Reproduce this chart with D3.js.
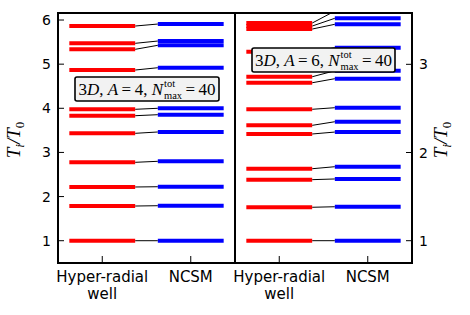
<!DOCTYPE html>
<html>
<head>
<meta charset="utf-8">
<script src="https://cdn.jsdelivr.net/npm/d3@7"></script>
<style>
  body { margin: 0; background: #fff; }
  svg { display: block; }
</style>
</head>
<body>
<div id="chart"></div>
<script>
const W = 470, H = 315;

// level energies T_i/T_0, ascending
const categories = ["Hyper-radial\nwell", "NCSM"];
const a4HyperRadial = [1.0, 1.786, 2.217, 2.776, 3.433, 3.832, 3.977, 4.867, 5.336, 5.472, 5.864];
const a4Ncsm        = [1.0, 1.793, 2.223, 2.799, 3.463, 3.855, 4.0, 4.919, 5.427, 5.524, 5.909];
const a6HyperRadial = [1.0, 1.379, 1.692, 1.816, 2.21, 2.308, 2.49, 2.791, 2.859, 3.143, 3.40, 3.434, 3.468];
const a6Ncsm        = [1.0, 1.385, 1.70, 1.839, 2.232, 2.349, 2.508, 2.837, 2.927, 3.188, 3.454, 3.522, 3.604];
const leftTicks = [1, 2, 3, 4, 5, 6];
const rightTicks = [1, 2, 3];

const panels = [
  { x0: 58, x1: 235, domain: [0.495, 6.159], hr: a4HyperRadial, ncsm: a4Ncsm, ticks: leftTicks, side: "left",
    label: { A: "4" }, box: { x: 75, y: 77, w: 144, h: 24 } },
  { x0: 235, x1: 412, domain: [0.747, 3.582], hr: a6HyperRadial, ncsm: a6Ncsm, ticks: rightTicks, side: "right",
    label: { A: "6" }, box: { x: 252, y: 48, w: 143, h: 24 } }
];
const plotTop = 13, plotBottom = 263;

const svg = d3.select("#chart").append("svg").attr("width", W).attr("height", H);
const defs = svg.append("defs");

panels.forEach((p, i) => {
  const x = d3.scaleLinear().domain([-0.5, 1.5]).range([p.x0, p.x1]);
  const y = d3.scaleLinear().domain(p.domain).range([plotBottom, plotTop]);
  const half = 0.372;

  defs.append("clipPath").attr("id", "clip" + i)
    .append("rect").attr("x", p.x0).attr("y", plotTop).attr("width", p.x1 - p.x0).attr("height", plotBottom - plotTop);

  const g = svg.append("g").attr("clip-path", `url(#clip${i})`);

  // connectors
  g.selectAll("line.conn").data(d3.zip(p.hr, p.ncsm)).join("line")
    .attr("class", "conn")
    .attr("x1", x(0 + half)).attr("x2", x(1 - half))
    .attr("y1", d => y(d[0])).attr("y2", d => y(d[1]))
    .attr("stroke", "#000").attr("stroke-width", 1);

  g.selectAll("line.hr").data(p.hr).join("line")
    .attr("class", "hr")
    .attr("x1", x(-half)).attr("x2", x(half))
    .attr("y1", d => y(d)).attr("y2", d => y(d))
    .attr("stroke", "#ff0000").attr("stroke-width", 4);

  g.selectAll("line.ncsm").data(p.ncsm).join("line")
    .attr("class", "ncsm")
    .attr("x1", x(1 - half)).attr("x2", x(1 + half))
    .attr("y1", d => y(d)).attr("y2", d => y(d))
    .attr("stroke", "#0000ff").attr("stroke-width", 4);

  // y axis ticks (inward) on outer side
  const ax = p.side === "left" ? p.x0 : p.x1;
  const dir = p.side === "left" ? 1 : -1;
  svg.append("g").selectAll("line").data(p.ticks).join("line")
    .attr("x1", ax).attr("x2", ax + dir * 6)
    .attr("y1", d => y(d)).attr("y2", d => y(d))
    .attr("stroke", "#000").attr("stroke-width", 1);
  svg.append("g").selectAll("text").data(p.ticks).join("text")
    .attr("x", ax - dir * 7).attr("y", d => y(d))
    .attr("dy", "0.36em")
    .attr("text-anchor", p.side === "left" ? "end" : "start")
    .style("font", "14px 'DejaVu Sans'")
    .text(d => d);

  // x ticks and labels
  svg.append("g").selectAll("line").data([0, 1]).join("line")
    .attr("x1", d => x(d)).attr("x2", d => x(d))
    .attr("y1", plotBottom).attr("y2", plotBottom - 7)
    .attr("stroke", "#000").attr("stroke-width", 1);
  const xl = svg.append("g").selectAll("text").data(categories).join("text")
    .attr("x", (d, j) => x(j)).attr("y", 282)
    .attr("text-anchor", "middle")
    .style("font", "15px 'DejaVu Sans'");
  xl.each(function (d, j) {
    d3.select(this).selectAll("tspan").data(d.split("\n")).join("tspan")
      .attr("x", x(j)).attr("dy", (s, k) => k === 0 ? 0 : 17)
      .text(s => s);
  });

  // annotation box
  const b = p.box;
  svg.append("rect").attr("x", b.x).attr("y", b.y).attr("width", b.w).attr("height", b.h)
    .attr("rx", 2).attr("fill", "#f2f2f2").attr("stroke", "#000").attr("stroke-width", 1.6);
  const tg = svg.append("g");
  const parts = [
    ["3", false], ["D", true], [", ", false], ["A", true], ["\u2009=\u2009", false], [p.label.A, false],
    [", ", false], ["N", true]
  ];
  let cx = 0;
  const base = b.y + b.h / 2 + 6;
  parts.forEach(([t, it]) => {
    const tx = tg.append("text").attr("x", cx).attr("y", base)
      .style("font", `${it ? "italic " : ""}17px 'Liberation Serif'`)
      .style("white-space", "pre").text(t);
    cx += tx.node().getComputedTextLength();
  });
  const sup = tg.append("text").attr("x", cx + 1).attr("y", base - 8)
    .style("font", "10.5px 'Liberation Serif'").text("tot");
  const sub = tg.append("text").attr("x", cx + 1).attr("y", base + 3.5)
    .style("font", "10.5px 'Liberation Serif'").text("max");
  cx += 1 + Math.max(sup.node().getComputedTextLength(), sub.node().getComputedTextLength());
  const last = tg.append("text").attr("x", cx).attr("y", base)
    .style("font", "17px 'Liberation Serif'").style("white-space", "pre").text("\u2009=\u200940");
  cx += last.node().getComputedTextLength();
  tg.attr("transform", `translate(${b.x + (b.w - cx) / 2},0)`);

  // frame
  svg.append("rect").attr("x", p.x0).attr("y", plotTop).attr("width", p.x1 - p.x0).attr("height", plotBottom - plotTop)
    .attr("fill", "none").attr("stroke", "#000").attr("stroke-width", 2);
});

// y labels
[[20, 140], [447, 140]].forEach(([lx, ly]) => {
  const t = svg.append("text")
    .attr("transform", `translate(${lx},${ly}) rotate(-90)`)
    .attr("text-anchor", "middle")
    .style("font", "italic 19px 'Liberation Serif'");
  t.append("tspan").text("T");
  t.append("tspan").attr("dy", 4).style("font-size", "13px").text("i");
  t.append("tspan").attr("dy", -4).text("/T");
  t.append("tspan").attr("dy", 4).style("font-size", "13px").style("font-style", "normal").text("0");
});
</script>
</body>
</html>
